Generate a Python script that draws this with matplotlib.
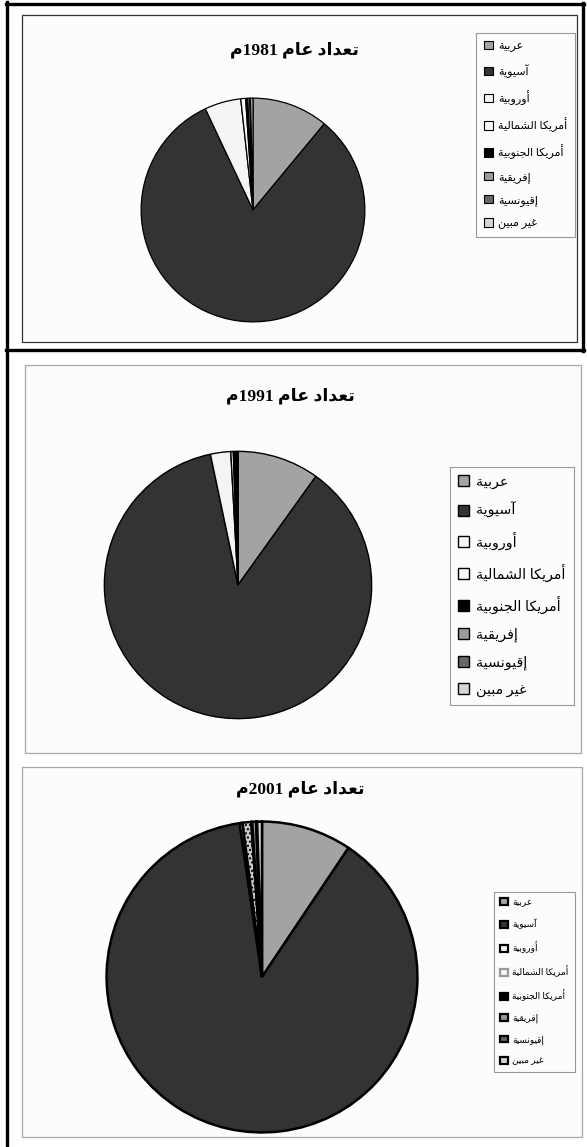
import re
import matplotlib
matplotlib.use("Agg")
import matplotlib.pyplot as plt
from matplotlib.patches import Rectangle, Patch
from matplotlib.lines import Line2D

W, H = 587, 1147

categories = ['عربية', 'آسيوية', 'أوروبية', 'أمريكا الشمالية',
              'أمريكا الجنوبية', 'إفريقية', 'إقيونسية', 'غير مبين']
share_1981 = [11.0, 82.0, 5.25, 0.7, 0.3, 0.3, 0.1, 0.35]
share_1991 = [9.9, 86.79, 2.45, 0.3, 0.35, 0.1, 0.06, 0.05]
share_2001 = [9.4, 88.3, 0.3, 0.9, 0.1, 0.4, 0.1, 0.5]
titles = ['تعداد عام 1981م', 'تعداد عام 1991م', 'تعداد عام 2001م']

colors = ['#a3a3a3', '#333333', '#f4f4f4', '#f8f8f8',
          '#000000', '#9a9a9a', '#676767', '#d4d4d4']

# Arabic shaping (matplotlib has no bidi / joining support)
FORMS = {
    'ا': (0xFE8D, 0xFE8E), 'آ': (0xFE81, 0xFE82), 'أ': (0xFE83, 0xFE84),
    'إ': (0xFE87, 0xFE88), 'د': (0xFEA9, 0xFEAA), 'ر': (0xFEAD, 0xFEAE),
    'و': (0xFEED, 0xFEEE), 'ة': (0xFE93, 0xFE94),
    'ب': (0xFE8F, 0xFE90, 0xFE91, 0xFE92), 'ت': (0xFE95, 0xFE96, 0xFE97, 0xFE98),
    'ج': (0xFE9D, 0xFE9E, 0xFE9F, 0xFEA0), 'س': (0xFEB1, 0xFEB2, 0xFEB3, 0xFEB4),
    'ش': (0xFEB5, 0xFEB6, 0xFEB7, 0xFEB8), 'ع': (0xFEC9, 0xFECA, 0xFECB, 0xFECC),
    'غ': (0xFECD, 0xFECE, 0xFECF, 0xFED0), 'ف': (0xFED1, 0xFED2, 0xFED3, 0xFED4),
    'ق': (0xFED5, 0xFED6, 0xFED7, 0xFED8), 'ك': (0xFED9, 0xFEDA, 0xFEDB, 0xFEDC),
    'ل': (0xFEDD, 0xFEDE, 0xFEDF, 0xFEE0), 'م': (0xFEE1, 0xFEE2, 0xFEE3, 0xFEE4),
    'ن': (0xFEE5, 0xFEE6, 0xFEE7, 0xFEE8), 'ي': (0xFEF1, 0xFEF2, 0xFEF3, 0xFEF4),
}


def rtl(text):
    out = []
    for i, ch in enumerate(text):
        f = FORMS.get(ch)
        if f is None:
            out.append(ch)
            continue
        prev = text[i - 1] if i > 0 else ''
        nxt = text[i + 1] if i < len(text) - 1 else ''
        jp = prev in FORMS and len(FORMS[prev]) == 4
        jn = nxt in FORMS and len(f) == 4
        if jp and jn:
            c = f[3]
        elif jp:
            c = f[1]
        elif jn:
            c = f[2]
        else:
            c = f[0]
        out.append(chr(c))
    s = ''.join(out)[::-1]
    return re.sub(r'[0-9]+', lambda m: m.group(0)[::-1], s)


FAM = ['Liberation Serif', 'DejaVu Sans']

fig = plt.figure(figsize=(W / 100, H / 100), dpi=100)


def fx(x):
    return x / W


def fy(y):
    return 1 - y / H


def box(x1, y1, x2, y2, ec, lw, fc='none'):
    fig.add_artist(Rectangle((fx(x1), fy(y2)), fx(x2 - x1), (y2 - y1) / H,
                             transform=fig.transFigure, facecolor=fc,
                             edgecolor=ec, lw=lw, zorder=0))


def line(xs, ys, lw):
    fig.add_artist(Line2D([fx(x) for x in xs], [fy(y) for y in ys],
                          transform=fig.transFigure, color='black', lw=lw))


# panel frames
box(22, 15, 577, 342, '#333333', 0.9, '#fcfcfc')
box(25, 365, 581, 753, '#a8a8a8', 0.9, '#fcfcfc')
box(22, 767, 582, 1137, '#a8a8a8', 0.9, '#fcfcfc')
line([7, 7], [2, 1147], 2.4)
line([6, 584], [4, 4], 2.4)
line([583, 583], [3, 351], 2.4)
line([6, 584], [350, 350], 2.4)


def draw_pie(cx, cy, r, values, lw, hatch_idx=None):
    ax = fig.add_axes([fx(cx - r), fy(cy + r), 2 * r / W, 2 * r / H])
    wedges, _ = ax.pie(values, colors=colors, startangle=90, counterclock=False,
                       radius=1, wedgeprops=dict(edgecolor='black', linewidth=lw))
    if hatch_idx is not None:
        wedges[hatch_idx].set_hatch('....')
        wedges[hatch_idx].set_facecolor('#c8c8c8')
    ax.set_xlim(-1.01, 1.01)
    ax.set_ylim(-1.01, 1.01)
    ax.axis('off')
    return ax


draw_pie(253, 210, 113, share_1981, 0.9)
draw_pie(238, 585, 135, share_1991, 1.0)
draw_pie(262, 977, 157, share_2001, 1.8, hatch_idx=3)

for (cx, cy), t in zip([(294, 50), (290, 396), (300, 789)], titles):
    fig.text(fx(cx), fy(cy), rtl(t), ha='center', va='center', fontsize=12.5,
             fontweight='bold', family=FAM)


def legend(x, y, fs, spacing, edge_lw, edge_colors=None, pad=0.7):
    handles = []
    for i, c in enumerate(colors):
        ec = edge_colors[i] if edge_colors else 'black'
        handles.append(Patch(facecolor=c, edgecolor=ec, lw=edge_lw))
    leg = fig.legend(handles, [rtl(c) for c in categories], loc='upper left',
                     bbox_to_anchor=(fx(x), fy(y)), bbox_transform=fig.transFigure,
                     borderaxespad=0, fancybox=False, framealpha=1,
                     edgecolor='#999999', facecolor='#fcfcfc',
                     prop={'family': FAM, 'size': fs}, labelspacing=spacing,
                     handlelength=0.8, handleheight=0.8, handletextpad=0.5,
                     borderpad=pad)
    leg.get_frame().set_linewidth(0.8)
    return leg


legend(476, 33, 8, 1.1, 0.8)
legend(450, 467, 10.3, 0.95, 1.0, pad=0.55)
edge3 = ['black', 'black', 'black', '#9a9a9a', 'black', 'black', 'black', 'black']
legend(494, 892, 6.5, 1.35, 1.6, edge3)

fig.savefig('out.png', dpi=100)
